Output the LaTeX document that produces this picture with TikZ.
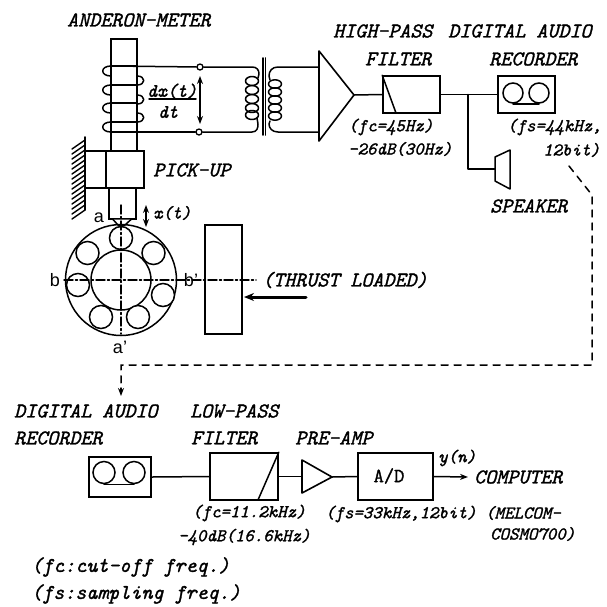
\documentclass[tikz,border=0pt]{standalone}
\usepackage{fontspec}
\usetikzlibrary{arrows.meta,patterns,calc}
\setmonofont{Latin Modern Mono}[ItalicFeatures={FakeBold=1.4},UprightFeatures={FakeBold=1.4}]
\setsansfont{Liberation Sans}
\tikzset{
  ln/.style={line width=1.5pt,line join=round},
  boxn/.style={draw,line width=1.6pt,inner sep=0pt,rectangle},
  big/.style={anchor=west,inner sep=0pt,font=\fontsize{21}{21}\selectfont\ttfamily\itshape},
  small/.style={anchor=west,inner sep=0pt,font=\fontsize{18}{18}\selectfont\ttfamily\itshape},
  sans/.style={inner sep=0pt,font=\fontsize{18}{18}\selectfont\sffamily},
  term/.style={circle,draw,line width=1.3pt,fill=white,inner sep=0pt,minimum size=6pt},
  reel/.style={circle,draw,line width=1.5pt,inner sep=0pt},
  dd/.style={line width=1.4pt,dash pattern=on 9pt off 2.5pt on 2pt off 2.5pt},
  dsh/.style={line width=1.5pt,dash pattern=on 7pt off 6pt},
  tip/.style={-{Stealth[length=8pt,width=6pt]}},
  tips/.style={{Stealth[length=8pt,width=6pt]}-{Stealth[length=8pt,width=6pt]}},
}
\begin{document}
\begin{tikzpicture}[x=1pt,y=-1pt,line cap=round]
\useasboundingbox (0,0) rectangle (607,606);
% ---- Anderon-meter rod and pick-up
\node[boxn,minimum width=26pt,minimum height=112pt] (rod) at (124,95) {};
\node[boxn,fill=white,minimum width=21pt,minimum height=37pt] (mount) at (95.5,169.5) {};
\node[boxn,fill=white,minimum width=38pt,minimum height=37pt] (pick) at (125,169.5) {};
\node[boxn,minimum width=27pt,minimum height=31pt] (shaft) at (122.5,203.5) {};
\coordinate (tipa) at (113,219.5); \coordinate (tipb) at (131,219.5); \coordinate (tipc) at (125,225); \coordinate (tipd) at (118,225);
\draw[ln,fill=white] (tipa)--(tipd)--(tipc)--(tipb);
% wall
\coordinate (wt) at (85,137); \coordinate (wb) at (85,210);
\draw[line width=1.8pt] (wt)--(wb);
\foreach \y in {140,145,...,212}{\draw[line width=1.4pt] (85,\y)--(72,\y+9);}
% coil on the rod
\foreach \y in {66,85,103,122}{
  \draw[ln] (111,\y) .. controls (100,\y) and (100,\y+10) .. (111,\y+10);
  \draw[ln] (111,\y)--(137,\y);
}
\foreach \y in {76,95,113}{
  \draw[ln] (137,\y) .. controls (146,\y) and (146,\y+9) .. (137,\y+9);
}
\coordinate (ctop) at (111,66); \coordinate (cbot) at (111,132);
% terminals and output
\node[term] (t1) at (200,67) {};
\node[term] (t2) at (199,132) {};
\draw[ln] (ctop)--(t1);
\draw[ln] (cbot)--(t2);
\coordinate (da) at (200,76); \coordinate (db) at (200,124);
\draw[ln,tips] (da)--(db);
\node[big,anchor=center,font=\fontsize{19}{19}\selectfont\ttfamily\itshape] (dx) at (172,91) {dx(t)};
\node[big,anchor=center,font=\fontsize{19}{19}\selectfont\ttfamily\itshape] (dtt) at (168,112) {dt};
\coordinate (fa) at (149,99); \coordinate (fb) at (196,99);
\draw[ln] (fa)--(fb);
% transformer
\coordinate (c1) at (263,58); \coordinate (c2) at (263,135);
\coordinate (c3) at (265.5,58); \coordinate (c4) at (265.5,135);
\draw[line width=1.6pt] (c1)--(c2) (c3)--(c4);
\draw[ln] (t1) -- (252,67) .. controls (257,67) and (259,70) .. (259,74) -- (258,78);
\draw[ln] (t2) -- (252,132) .. controls (257,132) and (258,128) .. (258,124) -- (257,118);
\foreach \y in {81,90,99,108,115}{
  \draw[ln] (252,\y) ellipse [x radius=6.5pt,y radius=4.5pt];
}
\coordinate (sa) at (319,67); \coordinate (sb) at (319,132);
\draw[ln] (sa) -- (278,67) .. controls (272,67) and (269,71) .. (269,76) -- (270,80);
\draw[ln] (sb) -- (278,132) .. controls (272,132) and (269,128) .. (269,124) -- (270,121);
\foreach \y in {84,92,100,108,116}{
  \draw[ln] (275,\y) ellipse [x radius=6.5pt,y radius=4.2pt];
}
% amplifier
\coordinate (am1) at (319,51); \coordinate (am2) at (319,141); \coordinate (am3) at (354,95);
\draw[ln,line width=1.6pt] (am1)--(am2)--(am3)--cycle;
% high-pass filter
\node[boxn,minimum width=57pt,minimum height=37pt] (hpf) at (411.5,94.5) {};
\draw[ln] (hpf.north west) -- (396,113);
\draw[ln] (am3)--(hpf.west);
% recorder
\node[boxn,minimum width=57pt,minimum height=37pt] (rec) at (526.5,94.5) {};
\draw[ln] (hpf.east)--(rec.west);
\node[reel,fill=white,minimum size=20pt] (r1) at (513,93) {};
\node[reel,fill=white,minimum size=20pt] (r2) at (539,93) {};
\draw[ln] (r1.south)--(r2.south);
% speaker
\coordinate (j) at (468,94.5);
\coordinate (sp1) at (495,157); \coordinate (sp2) at (510,150); \coordinate (sp3) at (510,189); \coordinate (sp4) at (495,181);
\coordinate (spm) at (495,169);
\draw[ln] (sp1)--(sp2)--(sp3)--(sp4)--cycle;
\draw[ln] (j)|-(spm);
% bearing
\coordinate (bc) at (121,280);
\node[reel,minimum size=111pt] (outer) at (bc) {};
\node[reel,minimum size=60pt] (inner) at (bc) {};
\foreach \n/\x/\y in {b1/121/238,b2/87.5/253,b3/153.5/253,b4/78/285,b5/163/295,b6/101/317,b7/138/317}{
  \node[reel,fill=white,minimum size=23pt] (\n) at (\x,\y) {};
}
\coordinate (v1) at (121,205); \coordinate (v2) at (121,334);
\coordinate (h1) at (64,280); \coordinate (h2) at (256,280);
\draw[dd] (v1)--(v2);
% thrust block
\node[boxn,minimum width=37pt,minimum height=109pt] (block) at (223.5,279.5) {};
\draw[dd] (h1)--(h2);
\coordinate (ta) at (306,297);
\draw[line width=3pt,-{Stealth[length=10pt,width=8pt]}] (ta)--(244,297);
\coordinate (xa) at (146,205); \coordinate (xb) at (146,227);
\draw[ln,tips] (xa)--(xb);
% dashed link
\coordinate (d0) at (569,166); \coordinate (d1) at (592,195); \coordinate (d2) at (592,365); \coordinate (d3) at (121,365); \coordinate (d4) at (121,388);
\draw[dsh] (d0)--(d1)--(d2)--(d3)--(d4);
\coordinate (d5) at (121,396);
\draw[ln,tip] (d4)--(d5);
% lower chain
\node[boxn,minimum width=62pt,minimum height=40pt] (rec2) at (120,477) {};
\node[reel,minimum size=22pt] (r3) at (104,472.5) {};
\node[reel,minimum size=22pt] (r4) at (134,472.5) {};
\draw[ln] (r3.south)--(r4.south);
\node[boxn,minimum width=68pt,minimum height=47pt] (lpf) at (244,476.5) {};
\draw[ln] (258,500)--(lpf.north east);
\draw[ln] (rec2.east)--(lpf.west);
\coordinate (p1) at (302,460); \coordinate (p2) at (302,493); \coordinate (p3) at (332,477);
\draw[ln,line width=1.6pt] (p1)--(p2)--(p3)--cycle;
\coordinate (pin) at (302,476.5);
\draw[ln] (lpf.east)--(pin);
\node[boxn,minimum width=75pt,minimum height=47pt] (ad) at (395.5,476.5) {};
\draw[ln] (p3)--(ad.west);
\node[inner sep=0pt,font=\fontsize{20}{20}\selectfont\ttfamily] (adt) at (389,476) {A/D};
\node[big] (comp) at (474,477) {COMPUTER};
\draw[ln,tip] (ad.east)--(468,477);
% labels
\node[big] (l1) at (67,20) {ANDERON-METER};
\node[big] (l2) at (333,31) {HIGH-PASS};
\node[big] (l3) at (448,31) {DIGITAL AUDIO};
\node[big] (l4) at (365,59) {FILTER};
\node[big] (l5) at (489,59) {RECORDER};
\node[small] (l6) at (348,127) {(fc=45Hz)};
\node[small] (l7) at (348,149) {-26dB(30Hz)};
\node[small] (l8) at (507,127) {(fs=44kHz,};
\node[small] (l9) at (543,150) {12bit)};
\node[big] (l10) at (490,206) {SPEAKER};
\node[big] (l11) at (153,170) {PICK-UP};
\node[small] (l12) at (153,213) {x(t)};
\node[big] (l13) at (262,280) {(THRUST LOADED)};
\node[sans] (l14) at (99,218) {a};
\node[sans] (l15) at (55,280) {b};
\node[sans] (l16) at (191,280) {b'};
\node[sans] (l17) at (120,347) {a'};
\node[big] (l18) at (14,411) {DIGITAL AUDIO};
\node[big] (l19) at (190,411) {LOW-PASS};
\node[big] (l20) at (14,438) {RECORDER};
\node[big] (l21) at (191,438) {FILTER};
\node[big] (l22) at (295,438) {PRE-AMP};
\node[small] (l23) at (438,458) {y(n)};
\node[small] (l24) at (192,513) {(fc=11.2kHz)};
\node[small] (l25) at (178,537) {-40dB(16.6kHz)};
\node[small] (l26) at (325,514) {(fs=33kHz,12bit)};
\node[small] (l27) at (485,513) {(MELCOM-};
\node[small] (l28) at (490,534) {COSMO700)};
\node[big] (l29) at (31,567) {(fc:cut-off freq.)};
\node[big] (l30) at (31,594) {(fs:sampling freq.)};
\end{tikzpicture}
\end{document}
